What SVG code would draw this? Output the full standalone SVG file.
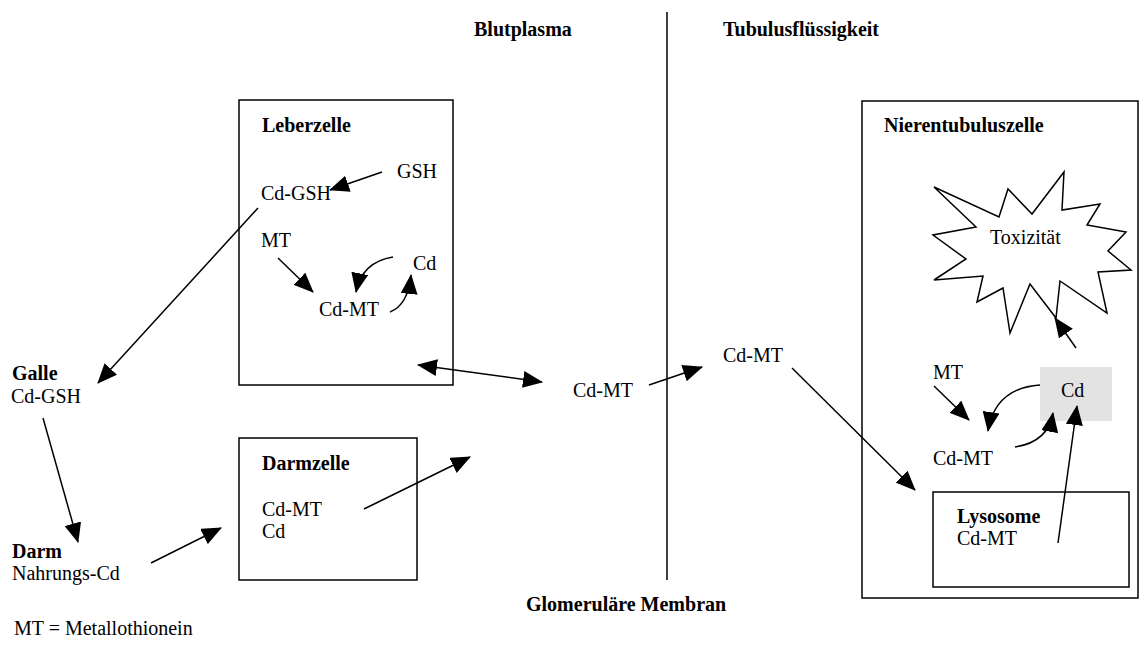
<svg xmlns="http://www.w3.org/2000/svg" width="1140" height="648" viewBox="0 0 1140 648">
<style>
text{font-family:"Liberation Serif","Times New Roman",serif;font-size:20px;fill:#000}
.b{font-weight:bold}
.box{fill:none;stroke:#000;stroke-width:1.5}
.ln{fill:none;stroke:#000;stroke-width:1.5;marker-end:url(#ah)}
</style>
<defs>
<marker id="ah" markerUnits="userSpaceOnUse" markerWidth="20" markerHeight="17" refX="19" refY="8.5" orient="auto-start-reverse" viewBox="0 0 20 17">
<path d="M0,0 L20,8.5 L0,17 z" fill="#000"/>
</marker>
</defs>
<rect width="1140" height="648" fill="#fff"/>
<g id="labels">
<text class="b" x="474" y="36">Blutplasma</text>
<text class="b" x="723" y="36">Tubulusflüssigkeit</text>
<text class="b" x="526" y="611">Glomeruläre Membran</text>
<text x="14" y="635">MT = Metallothionein</text>
</g>
<g id="membran"><line x1="667" y1="12" x2="667" y2="580" stroke="#000" stroke-width="1.5"/></g>
<g id="leberzelle">
<rect class="box" x="239" y="100" width="214" height="285"/>
<text class="b" x="262" y="132">Leberzelle</text>
<text x="397" y="178">GSH</text>
<text x="261" y="200">Cd-GSH</text>
<text x="261" y="247">MT</text>
<text x="413" y="270">Cd</text>
<text x="319" y="316">Cd-MT</text>
</g>
<g id="galle">
<text class="b" x="12" y="380">Galle</text>
<text x="11" y="403">Cd-GSH</text>
</g>
<g id="darm">
<text class="b" x="12" y="558">Darm</text>
<text x="12" y="580">Nahrungs-Cd</text>
</g>
<g id="darmzelle">
<rect class="box" x="239" y="438" width="178" height="142"/>
<text class="b" x="262" y="470">Darmzelle</text>
<text x="262" y="516">Cd-MT</text>
<text x="262" y="538">Cd</text>
</g>
<g id="plasma-cdmt"><text x="573" y="397">Cd-MT</text></g>
<g id="tubulus-cdmt"><text x="723" y="362">Cd-MT</text></g>
<g id="nierentubuluszelle">
<rect class="box" x="862" y="101" width="276" height="497"/>
<text class="b" x="884" y="132">Nierentubuluszelle</text>
</g>
<g id="toxizitaet">
<polygon points="934,187 999,217 1008,189 1032,214 1064,172 1062,210 1100,204 1087,225 1126,232 1108,251 1131,270 1098,272 1107,313 1060,281 1056,318 1030,284 1010,333 1003,288 977,302 983,276 934,280 966,259 933,235 976,227" fill="#fff" stroke="#000" stroke-width="1.5" stroke-linejoin="miter"/>
<text x="990" y="244">Toxizität</text>
</g>
<g id="cd-niere">
<rect x="1040" y="367" width="72" height="54" fill="#e3e3e3"/>
<text x="1061" y="397">Cd</text>
</g>
<g id="mt-niere"><text x="933" y="379">MT</text></g>
<g id="cdmt-niere"><text x="933" y="465">Cd-MT</text></g>
<g id="lysosome">
<rect class="box" x="933" y="492" width="196" height="95"/>
<text class="b" x="957" y="523">Lysosome</text>
<text x="957" y="545">Cd-MT</text>
</g>
<g id="connectors">
<line class="ln" x1="382" y1="172" x2="330" y2="190"/>
<line class="ln" x1="258" y1="208" x2="98" y2="383"/>
<line class="ln" x1="278" y1="258" x2="313" y2="292"/>
<path class="ln" d="M393,257 Q362,262 356,292"/>
<path class="ln" d="M390,312 Q408,305 411,275"/>
<line class="ln" x1="418" y1="365" x2="542" y2="382" style="marker-start:url(#ah)"/>
<line class="ln" x1="649" y1="385" x2="702" y2="367"/>
<line class="ln" x1="43" y1="418" x2="78" y2="542"/>
<line class="ln" x1="151" y1="563" x2="221" y2="528"/>
<line class="ln" x1="364" y1="509" x2="470" y2="457"/>
<line class="ln" x1="792" y1="368" x2="915" y2="490"/>
<line class="ln" x1="934" y1="386" x2="969" y2="420"/>
<path class="ln" d="M1040,385 Q995,388 988,431"/>
<path class="ln" d="M1015,447 Q1048,442 1053,413"/>
<line class="ln" x1="1058" y1="543" x2="1077" y2="406"/>
<line class="ln" x1="1076" y1="348" x2="1055" y2="318"/>
</g>
</svg>
